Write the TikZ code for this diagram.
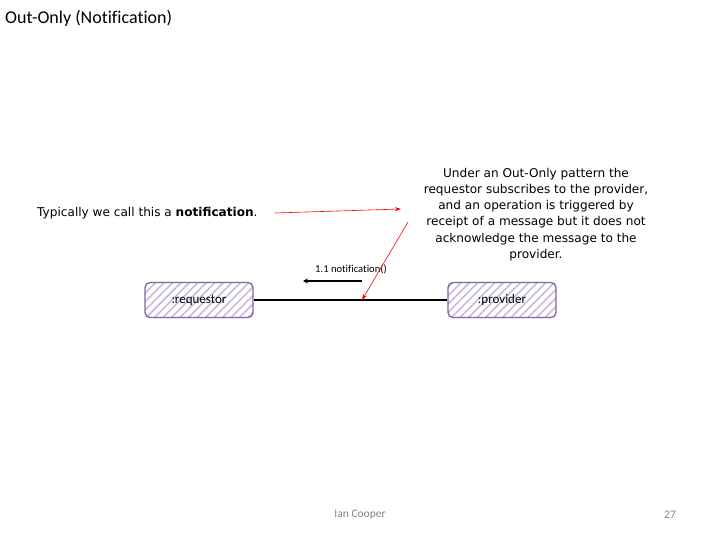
\documentclass[tikz,border=0pt]{standalone}
\usepackage{fontspec}
\setmainfont{Carlito}[Ligatures=NoCommon]
\newfontfamily\comicfont{DejaVu Sans}
\usetikzlibrary{patterns.meta,arrows.meta}
\definecolor{boxborder}{HTML}{7F63A8}
\definecolor{hatch}{HTML}{C8B9DE}
\tikzset{
  rolebox/.style={draw=boxborder, line width=1.3pt, rounded corners=5pt,
    minimum width=108pt, minimum height=35pt, inner sep=0pt,
    pattern={Lines[angle=45,distance=6pt,line width=1.6pt]}, pattern color=hatch},
  rolelabel/.style={font=\fontsize{13}{15}\selectfont, inner sep=0pt},
  note/.style={font=\comicfont\fontsize{12.1}{16.2}\selectfont, align=center, inner sep=0pt},
  redarrow/.style={draw=red, line width=0.6pt, -{Stealth[length=6pt,width=4pt]}},
}
\begin{document}
\begin{tikzpicture}[x=1pt,y=-1pt]
\useasboundingbox (0,0) rectangle (720,540);
\node[anchor=west, inner sep=0pt, font=\fontsize{18}{20}\selectfont] (title) at (5,18) {Out-Only (Notification)};
\node[rolebox] (req) at (199,300) {};
\node[rolelabel] (reqlabel) at (199,300) {:requestor};
\node[rolebox] (prov) at (502,300) {};
\node[rolelabel] (provlabel) at (502,300) {:provider};
\draw[line width=2.8pt] (req.east) -- (prov.west);
\coordinate (msgstart) at (362,281);
\coordinate (msgend) at (303,281);
\draw[line width=1.6pt, -{Stealth[length=5pt,width=5pt]}] (msgstart) -- (msgend);
\node[font=\fontsize{10.6}{12}\selectfont, inner sep=0pt] (msglabel) at (351,269) {1.1 notification()};
\node[note, anchor=west] (typ) at (37,213) {Typically we call this a \textbf{notification}.};
\node[note] (para) at (536,214.5) {Under an Out-Only pattern the\\requestor subscribes to the provider,\\and an operation is triggered by\\receipt of a message but it does not\\acknowledge the message to the\\provider.};
\coordinate (r1s) at (275,213);
\coordinate (r1e) at (401,209);
\draw[redarrow] (r1s) -- (r1e);
\coordinate (r2s) at (408,222);
\coordinate (r2e) at (362,300);
\draw[redarrow] (r2s) -- (r2e);
\node[font=\fontsize{11.5}{13}\selectfont, text=gray] (author) at (360,515) {Ian Cooper};
\node[font=\fontsize{11.5}{13}\selectfont, text=gray] (page) at (670,515) {27};
\end{tikzpicture}
\end{document}
